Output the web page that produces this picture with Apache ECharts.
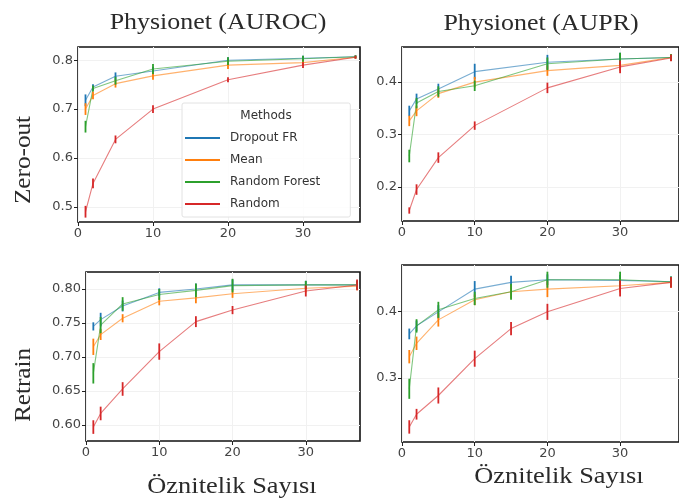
<!DOCTYPE html>
<html>
<head>
<meta charset="utf-8">
<script src="https://cdn.jsdelivr.net/npm/echarts@6/dist/echarts.min.js"></script>
<style>
  html, body { margin: 0; padding: 0; background: #fff; }
  #main { width: 679px; height: 503px; }
</style>
</head>
<body>
<div id="main"></div>
<script>
const methods = ['Dropout FR', 'Mean', 'Random Forest', 'Random'];
const xTop = [1, 2, 5, 10, 20, 30, 37];
const xBottom = [1, 2, 5, 10, 15, 20, 30, 37];
const xTicks = [0, 10, 20, 30];

// rows follow the methods order
const zeroAuroc = [
  [0.718, 0.745, 0.767, 0.778, 0.800, 0.804, 0.807],
  [0.700, 0.728, 0.752, 0.768, 0.790, 0.795, 0.806],
  [0.664, 0.742, 0.758, 0.782, 0.798, 0.803, 0.807],
  [0.490, 0.548, 0.638, 0.700, 0.760, 0.790, 0.806]
];
const zeroAurocErr = [
  [0.012, 0.006, 0.008, 0.008, 0.006, 0.005, 0.003],
  [0.012, 0.008, 0.008, 0.008, 0.008, 0.006, 0.003],
  [0.012, 0.006, 0.008, 0.010, 0.008, 0.006, 0.003],
  [0.012, 0.010, 0.008, 0.008, 0.005, 0.006, 0.003]
];
const zeroAupr = [
  [0.345, 0.368, 0.387, 0.420, 0.438, 0.444, 0.447],
  [0.326, 0.345, 0.378, 0.400, 0.422, 0.432, 0.447],
  [0.259, 0.360, 0.382, 0.393, 0.435, 0.444, 0.447],
  [0.155, 0.195, 0.256, 0.317, 0.389, 0.429, 0.446]
];
const zeroAuprErr = [
  [0.010, 0.010, 0.010, 0.015, 0.014, 0.012, 0.006],
  [0.010, 0.010, 0.008, 0.010, 0.010, 0.010, 0.006],
  [0.012, 0.010, 0.010, 0.010, 0.012, 0.012, 0.006],
  [0.006, 0.010, 0.010, 0.008, 0.010, 0.012, 0.006]
];
const retrainAuroc = [
  [0.745, 0.755, 0.775, 0.795, 0.800, 0.806, 0.806, 0.806],
  [0.715, 0.733, 0.757, 0.782, 0.787, 0.793, 0.801, 0.804],
  [0.676, 0.747, 0.778, 0.792, 0.798, 0.805, 0.806, 0.806],
  [0.597, 0.617, 0.653, 0.708, 0.752, 0.769, 0.797, 0.806]
];
const retrainAurocErr = [
  [0.006, 0.010, 0.008, 0.006, 0.008, 0.008, 0.006, 0.006],
  [0.012, 0.008, 0.006, 0.006, 0.008, 0.006, 0.006, 0.006],
  [0.015, 0.012, 0.010, 0.008, 0.010, 0.010, 0.006, 0.006],
  [0.010, 0.010, 0.010, 0.012, 0.008, 0.006, 0.008, 0.008]
];
const retrainAupr = [
  [0.366, 0.378, 0.399, 0.433, 0.443, 0.447, 0.446, 0.444],
  [0.332, 0.352, 0.387, 0.417, 0.429, 0.433, 0.438, 0.443],
  [0.284, 0.378, 0.402, 0.419, 0.429, 0.447, 0.447, 0.444],
  [0.227, 0.246, 0.274, 0.329, 0.374, 0.399, 0.434, 0.443]
];
const retrainAuprErr = [
  [0.008, 0.008, 0.010, 0.012, 0.010, 0.008, 0.008, 0.008],
  [0.010, 0.010, 0.010, 0.008, 0.010, 0.012, 0.010, 0.008],
  [0.015, 0.010, 0.012, 0.010, 0.012, 0.012, 0.012, 0.008],
  [0.010, 0.008, 0.012, 0.012, 0.010, 0.012, 0.012, 0.008]
];
const yTicksZeroAuroc = [0.5, 0.6, 0.7, 0.8];
const yTicksZeroAupr = [0.2, 0.3, 0.4];
const yTicksRetrainAuroc = [0.60, 0.65, 0.70, 0.75, 0.80];
const yTicksRetrainAupr = [0.3, 0.4];

const colors = ['#1f77b4', '#ff7f0e', '#2ca02c', '#d62728'];
const serif = '"Liberation Serif", "DejaVu Serif", serif';
const sans = '"DejaVu Sans", sans-serif';

const panels = [
  { x: xTop, y: zeroAuroc, err: zeroAurocErr, ticks: yTicksZeroAuroc, step: 0.1, digits: 1,
    grid: { left: 78, top: 47, width: 282, height: 175 }, yMin: 0.469, yMax: 0.827, xMax: 37.6 },
  { x: xTop, y: zeroAupr, err: zeroAuprErr, ticks: yTicksZeroAupr, step: 0.1, digits: 1,
    grid: { left: 402, top: 47, width: 285, height: 174 }, yMin: 0.135, yMax: 0.467, xMax: 38.1 },
  { x: xBottom, y: retrainAuroc, err: retrainAurocErr, ticks: yTicksRetrainAuroc, step: 0.05, digits: 2,
    grid: { left: 86, top: 272, width: 274, height: 169 }, yMin: 0.5765, yMax: 0.825, xMax: 37.4 },
  { x: xBottom, y: retrainAupr, err: retrainAuprErr, ticks: yTicksRetrainAupr, step: 0.1, digits: 1,
    grid: { left: 402, top: 265, width: 285, height: 177 }, yMin: 0.2045, yMax: 0.469, xMax: 38.1 }
];

function renderErrorBar(params, api) {
  const top = api.coord([api.value(0), api.value(2)]);
  const bottom = api.coord([api.value(0), api.value(1)]);
  return {
    type: 'line',
    shape: { x1: top[0], y1: top[1], x2: bottom[0], y2: bottom[1] },
    style: { stroke: api.visual('color'), lineWidth: 1.8 }
  };
}

const grid = [];
const xAxis = [];
const yAxis = [];
const series = [];

panels.forEach((p, i) => {
  grid.push(Object.assign({ show: true, borderColor: '#111', borderWidth: 1.6 }, p.grid));
  xAxis.push({
    type: 'value', gridIndex: i, min: 0, max: p.xMax, interval: 10,
    axisLine: { show: false },
    axisTick: { show: true, length: 4, lineStyle: { color: '#222' }, customValues: xTicks },
    axisLabel: { customValues: xTicks, color: '#444', fontSize: 13, fontFamily: sans, margin: 5 },
    splitLine: { show: true, lineStyle: { color: '#f1f1f1' } }
  });
  yAxis.push({
    type: 'value', gridIndex: i, min: p.yMin, max: p.yMax,
    minInterval: p.step, maxInterval: p.step,
    axisLine: { show: false },
    axisTick: { show: true, length: 4, lineStyle: { color: '#222' }, customValues: p.ticks },
    axisLabel: {
      customValues: p.ticks, color: '#444', fontSize: 13, fontFamily: sans, margin: 5,
      formatter: v => Number(v).toFixed(p.digits)
    },
    splitLine: { show: true, lineStyle: { color: '#f1f1f1' } }
  });
  methods.forEach((name, m) => {
    series.push({
      name: name,
      type: 'line',
      xAxisIndex: i,
      yAxisIndex: i,
      symbol: 'none',
      data: p.x.map((xv, k) => [xv, p.y[m][k]]),
      itemStyle: { color: colors[m] },
      lineStyle: { color: colors[m], width: 1.1, opacity: 0.6 },
      z: 2
    });
  });
  methods.forEach((name, m) => {
    series.push({
      name: name + ' err',
      type: 'custom',
      xAxisIndex: i,
      yAxisIndex: i,
      renderItem: renderErrorBar,
      encode: { x: 0, y: [1, 2] },
      itemStyle: { color: colors[m] },
      data: p.x.map((xv, k) => [xv, p.y[m][k] - p.err[m][k], p.y[m][k] + p.err[m][k]]),
      z: 3
    });
  });
});

function label(text, x, y, opts) {
  return Object.assign({
    type: 'text', x: x, y: y,
    style: {
      text: text, font: '24px ' + serif, fill: '#2a2a2a',
      textAlign: 'center', textVerticalAlign: 'middle'
    },
    z: 10
  }, opts || {});
}

const option = {
  animation: false,
  backgroundColor: '#fff',
  grid: grid,
  xAxis: xAxis,
  yAxis: yAxis,
  legend: {
    data: methods,
    orient: 'vertical',
    left: 182,
    top: 103,
    padding: [28, 30, 6, 3],
    icon: 'rect',
    itemWidth: 35,
    itemHeight: 2,
    itemGap: 8,
    backgroundColor: 'rgba(255,255,255,0.85)',
    borderColor: '#e2e2e2',
    borderWidth: 1,
    borderRadius: 2,
    textStyle: { fontSize: 12, lineHeight: 14, fontFamily: sans, color: '#333', padding: [0, 0, 0, 5] }
  },
  graphic: [
    label('Physionet (AUROC)', 218, 23, { scaleX: 1.08 }),
    label('Physionet (AUPR)', 541, 24, { scaleX: 1.08 }),
    label('Zero-out', 24, 160, { rotation: Math.PI / 2, scaleX: 1.05 }),
    label('Retrain', 24, 385, { rotation: Math.PI / 2, scaleX: 1.05 }),
    label('Öznitelik Sayısı', 232, 487, { scaleX: 1.1 }),
    label('Öznitelik Sayısı', 559, 477, { scaleX: 1.1 }),
    {
      type: 'text', x: 266, y: 116,
      style: { text: 'Methods', font: '12px ' + sans, fill: '#333', textAlign: 'center', textVerticalAlign: 'middle' },
      z: 10
    }
  ],
  series: series
};

const chart = echarts.init(document.getElementById('main'));
chart.setOption(option);
</script>
</body>
</html>
